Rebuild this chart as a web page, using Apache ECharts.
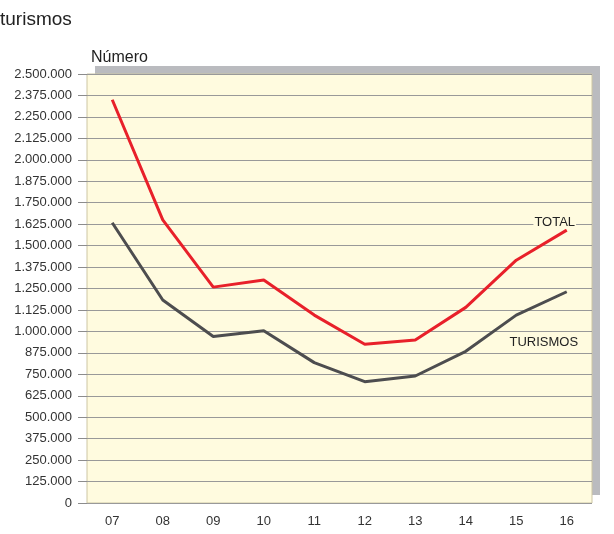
<!DOCTYPE html>
<html>
<head>
<meta charset="utf-8">
<script src="https://cdn.jsdelivr.net/npm/echarts@6/dist/echarts.min.js"></script>
<style>
  html, body { margin: 0; padding: 0; background: #fff; }
  #chart { width: 614px; height: 534px; }
</style>
</head>
<body>
<div id="chart"></div>
<script>
// datos
const years = ['07', '08', '09', '10', '11', '12', '13', '14', '15', '16'];
const total = [2350000, 1650000, 1258000, 1300000, 1095000, 925000, 950000, 1140000, 1415000, 1590000];
const turismos = [1633000, 1183000, 970000, 1004000, 818000, 707000, 740000, 884000, 1095000, 1231000];

// separador de miles con punto
function fmtMiles(v) {
    return String(v).replace(/\B(?=(\d{3})+(?!\d))/g, '.');
}

const chart = echarts.init(document.getElementById('chart'));

const plotBox = { left: 87, right: 22, top: 74, bottom: 31 };

const option = {
    animation: false,
    title: [
        {
            text: 'turismos',
            left: -5,
            top: 5,
            textStyle: { fontFamily: 'Liberation Sans', fontSize: 19, fontWeight: 'normal', color: '#222' }
        },
        {
            text: 'Número',
            left: 86,
            top: 45,
            textStyle: { fontFamily: 'Liberation Sans', fontSize: 16, fontWeight: 'normal', color: '#222' }
        }
    ],
    grid: [
        // fondo con sombra gris
        Object.assign({
            show: true,
            backgroundColor: '#fffbdf',
            borderWidth: 0,
            shadowColor: '#babbbf',
            shadowOffsetX: 8,
            shadowOffsetY: -8,
            shadowBlur: 0
        }, plotBox),
        // borde del área
        Object.assign({
            show: true,
            backgroundColor: 'transparent',
            borderColor: '#cdc6a4',
            borderWidth: 1
        }, plotBox)
    ],
    xAxis: [
        {
            type: 'category',
            gridIndex: 0,
            data: years,
            boundaryGap: true,
            axisLine: { show: false },
            axisTick: { show: false },
            axisLabel: {
                margin: 12,
                fontFamily: 'Liberation Sans',
                fontSize: 13,
                color: '#333'
            }
        },
        { type: 'category', gridIndex: 1, show: false, data: years }
    ],
    yAxis: [
        {
            type: 'value',
            gridIndex: 0,
            min: 0,
            max: 2500000,
            interval: 125000,
            axisLine: { show: false },
            axisTick: { show: true, length: 9, lineStyle: { color: '#8c8c8c' } },
            axisLabel: {
                margin: 15,
                fontFamily: 'Liberation Sans',
                fontSize: 13,
                color: '#333',
                formatter: fmtMiles
            },
            splitLine: { lineStyle: { color: '#999', width: 1 } }
        },
        { type: 'value', gridIndex: 1, show: false, min: 0, max: 2500000 }
    ],
    series: [
        {
            name: 'TOTAL',
            type: 'line',
            data: total,
            showSymbol: false,
            symbol: 'none',
            lineStyle: { color: '#e8202a', width: 3 },
            markPoint: {
                symbolSize: 0,
                data: [{ coord: ['16', total[9]] }],
                label: {
                    show: true,
                    formatter: 'TOTAL',
                    offset: [-12, -8],
                    fontFamily: 'Liberation Sans',
                    fontSize: 13,
                    color: '#222',
                    backgroundColor: '#fffbdf',
                    padding: [0, 1]
                }
            }
        },
        {
            name: 'TURISMOS',
            type: 'line',
            data: turismos,
            showSymbol: false,
            symbol: 'none',
            lineStyle: { color: '#4d4d4f', width: 3 },
            markPoint: {
                symbolSize: 0,
                data: [{ coord: ['16', turismos[9]] }],
                label: {
                    show: true,
                    formatter: 'TURISMOS',
                    offset: [-23, 51],
                    fontFamily: 'Liberation Sans',
                    fontSize: 13,
                    color: '#222',
                    backgroundColor: '#fffbdf',
                    padding: [0, 1]
                }
            }
        }
    ]
};

chart.setOption(option);
</script>
</body>
</html>
